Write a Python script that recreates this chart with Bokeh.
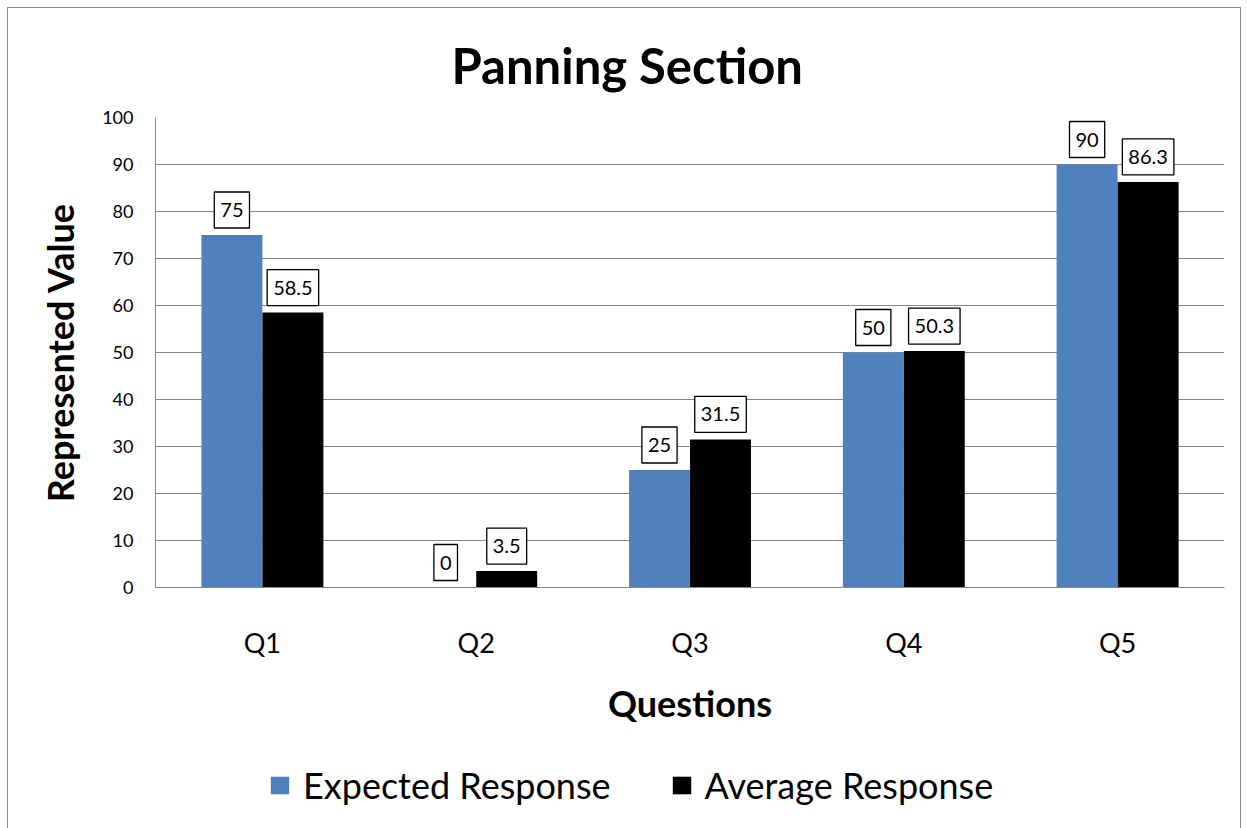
from bokeh.plotting import figure
from bokeh.models import (Range1d, FactorRange, FixedTicker, ColumnDataSource,
                          Legend, LegendItem)
from bokeh.layouts import column
from bokeh.core.properties import value
from bokeh.transform import dodge
from bokeh.embed import file_html
from bokeh.resources import INLINE

title_text = "Panning Section"
categories = ["Q1", "Q2", "Q3", "Q4", "Q5"]
expected = [75, 0, 25, 50, 90]
average = [58.5, 3.5, 31.5, 50.3, 86.3]
expected_labels = ["75", "0", "25", "50", "90"]
average_labels = ["58.5", "3.5", "31.5", "50.3", "86.3"]
y_ticks = [0, 10, 20, 30, 40, 50, 60, 70, 80, 90, 100]
series_names = ["Expected Response", "Average Response"]

FONT = "Lato"
BLUE = "#4F81BD"
GRAY = "#868686"

src = ColumnDataSource(dict(cat=categories, exp=expected, avg=average,
                            exp_lbl=expected_labels, avg_lbl=average_labels))

p = figure(x_range=FactorRange(*categories), y_range=Range1d(0, 100),
           width=1232, height=722, output_backend="svg", toolbar_location=None,
           min_border_left=147, min_border_right=16, min_border_top=109, min_border_bottom=143,
           title=title_text)

p.title.align = "left"
p.title.offset = 296
p.title.text_font = FONT
p.title.text_font_size = "49px"
p.title.text_font_style = "bold"
p.title.text_color = "black"
p.title.standoff = 48

w = 0.285
r1 = p.vbar(x=dodge("cat", -0.1427, range=p.x_range), top="exp", width=w, source=src,
            fill_color=BLUE, line_color=None)
r2 = p.vbar(x=dodge("cat", 0.1427, range=p.x_range), top="avg", width=w, source=src,
            fill_color="black", line_color=None)

for col, off in (("exp", -0.1427), ("avg", 0.1427)):
    p.text(x=dodge("cat", off, range=p.x_range), y=col, text=col + "_lbl", source=src,
           text_align="center", text_baseline="bottom", y_offset=-7,
           text_font=value(FONT), text_font_size="20px", text_color="black",
           background_fill_color="white", border_line_color="black", border_line_width=1.3,
           padding=dict(left=6, right=6, top=11, bottom=11))

p.yaxis.ticker = FixedTicker(ticks=y_ticks)
p.yaxis.axis_label = "Represented Value"
p.yaxis.axis_label_text_font = FONT
p.yaxis.axis_label_text_font_size = "36px"
p.yaxis.axis_label_text_font_style = "bold"
p.yaxis.axis_label_text_color = "black"
p.yaxis.axis_label_standoff = 17
p.yaxis.major_label_text_font = FONT
p.yaxis.major_label_text_font_size = "18px"
p.yaxis.major_label_text_color = "black"
p.yaxis.major_label_standoff = 22
p.yaxis.major_tick_out = 0
p.yaxis.major_tick_in = 0
p.yaxis.minor_tick_out = 0
p.yaxis.minor_tick_in = 0
p.yaxis.axis_line_color = GRAY

p.xaxis.axis_label = "Questions"
p.xaxis.axis_label_text_font = FONT
p.xaxis.axis_label_text_font_size = "36px"
p.xaxis.axis_label_text_font_style = "bold"
p.xaxis.axis_label_text_color = "black"
p.xaxis.axis_label_standoff = 19
p.xaxis.major_label_text_font = FONT
p.xaxis.major_label_text_font_size = "27px"
p.xaxis.major_label_text_color = "black"
p.xaxis.major_label_standoff = 38
p.xaxis.major_tick_out = 0
p.xaxis.major_tick_in = 0
p.xaxis.axis_line_color = GRAY

p.xgrid.grid_line_color = None
p.ygrid.grid_line_color = GRAY
p.ygrid.grid_line_width = 1
p.outline_line_color = None

# ---- legend strip below the chart ----
lg = figure(width=1232, height=100, output_backend="svg", toolbar_location=None,
            x_range=Range1d(0, 1), y_range=Range1d(0, 1),
            x_axis_location=None, y_axis_location=None,
            min_border_left=0, min_border_right=0, min_border_top=0, min_border_bottom=0)
lg.xgrid.grid_line_color = None
lg.ygrid.grid_line_color = None
lg.outline_line_color = None
hidden = ColumnDataSource(dict(x=[-10], top=[-10]))
g1 = lg.vbar(x="x", top="top", width=0.1, source=hidden, fill_color=BLUE, line_color=None)
g2 = lg.vbar(x="x", top="top", width=0.1, source=hidden, fill_color="black", line_color=None)
legend = Legend(items=[LegendItem(label=series_names[0], renderers=[g1]),
                       LegendItem(label=series_names[1], renderers=[g2])],
                orientation="horizontal", location=(113, 23),
                label_text_font=FONT, label_text_font_size="36px", label_text_color="black",
                glyph_width=23, glyph_height=22, label_standoff=12, spacing=59,
                padding=0, margin=0, border_line_color=None, background_fill_alpha=0)
lg.add_layout(legend, "center")

layout = column(p, lg, spacing=0,
                styles={"border": "1px solid #8c8c8c", "margin-left": "7px", "margin-top": "7px"})

open("out.html", "w").write(file_html(layout, INLINE))
